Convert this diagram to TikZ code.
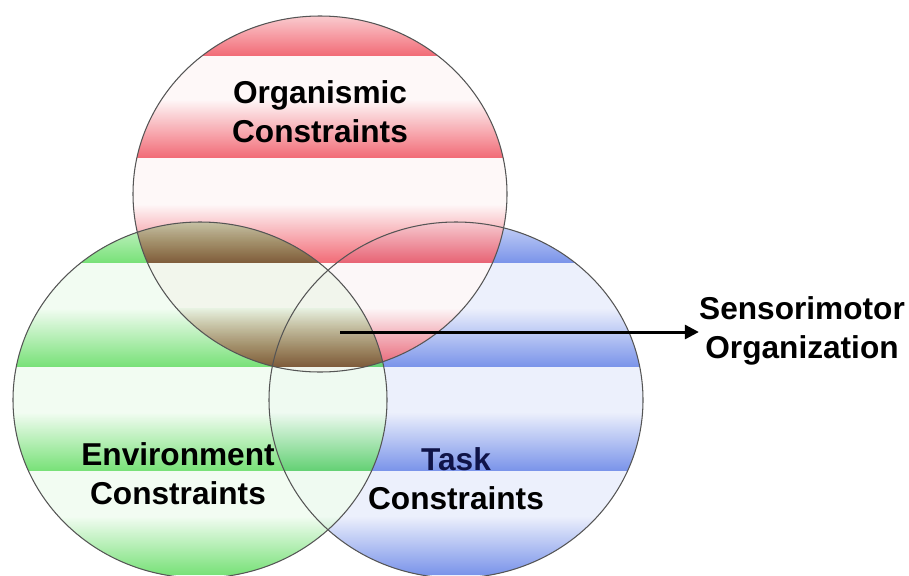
\documentclass[tikz,border=0pt]{standalone}
\usepackage{fontspec}
\setmainfont{Liberation Sans}
\usetikzlibrary{arrows.meta}

\definecolor{orgred}{RGB}{238,70,84}
\definecolor{envgreen}{RGB}{70,214,70}
\definecolor{taskblue}{RGB}{100,130,230}
\definecolor{rimgray}{RGB}{85,85,85}
\definecolor{tasknavy}{RGB}{16,20,72}

% striped glass disc: centre, colour, base tint
\newcommand{\glassdisc}[3]{%
	\begin{scope}
		\clip (#1) ellipse [x radius=187, y radius=178];
		\fill[#2!#3] (#1) ellipse [x radius=187, y radius=178];
		\foreach \e in {55,157,262,366,470,574}
			\shade[top color=#2!#3, middle color=#2!40, bottom color=#2!85]
				(0,\e-58) rectangle (909,\e);
	\end{scope}}

\begin{document}
\begin{tikzpicture}[> = {Triangle[length=8pt,width=8pt]}, % arrow head style
	x=0.02cm, y=-0.02cm,
	rim/.style={draw=rimgray, line width=0.6pt},
	label/.style={font=\fontsize{18}{22}\selectfont\bfseries, align=center, inner sep=0pt}]
	\useasboundingbox (0,0) rectangle (909,575);

	\coordinate (organ) at (320,194);
	\coordinate (envir) at (200,400);
	\coordinate (task)  at (456,400);

	% blue at the back, then green, then red
	\glassdisc{task}{taskblue}{12}
	\begin{scope}[transparency group, opacity=0.85]
		\glassdisc{envir}{envgreen}{8}
	\end{scope}
	\begin{scope}[transparency group, opacity=0.93]
		\glassdisc{organ}{orgred}{4}
	\end{scope}
	% green seen through the red disc
	\begin{scope}[blend mode=multiply, opacity=0.68]
		\clip (organ) ellipse [x radius=187, y radius=178];
		\glassdisc{envir}{envgreen}{8}
	\end{scope}

	\draw[rim] (organ) ellipse [x radius=187, y radius=178];
	\draw[rim] (envir) ellipse [x radius=187, y radius=178];
	\draw[rim] (task)  ellipse [x radius=187, y radius=178];

	\node[label] (norgan) at (320,112) {Organismic\\Constraints};
	\node[label] (nenvir) at (178,474) {Environment\\Constraints};
	\node[label] (ntask)  at (456,479) {\textcolor{tasknavy}{Task}\\Constraints};
	\node[label] (nsens)  at (802,331) {Sensorimotor\\Organization};

	\coordinate (hub) at (340,332);
	\draw[->, line width=1.7pt] (hub) -- (hub -| nsens.west);

\end{tikzpicture}
\end{document}
